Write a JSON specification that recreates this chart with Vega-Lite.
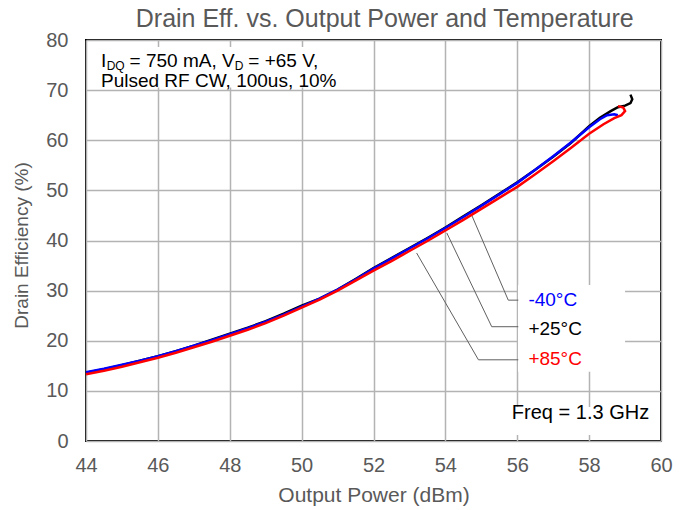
{
  "$schema": "https://vega.github.io/schema/vega-lite/v6.json",
  "width": 575,
  "height": 401,
  "autosize": {"type": "none"},
  "padding": {"left": 86, "top": 40, "right": 29, "bottom": 69},
  "background": "white",
  "config": {
    "font": "Liberation Sans",
    "view": {"stroke": "black", "strokeWidth": 2},
    "axis": {
      "labelFont": "Liberation Sans",
      "titleFont": "Liberation Sans",
      "labelColor": "#595959",
      "titleColor": "#595959",
      "titleFontWeight": "normal",
      "gridColor": "#b3b3b3",
      "gridWidth": 1.5,
      "domain": false,
      "ticks": false
    }
  },
  "title": {
    "text": "Drain Eff. vs. Output Power and Temperature",
    "font": "Liberation Sans",
    "fontSize": 25,
    "fontWeight": "normal",
    "color": "#595959",
    "anchor": "start",
    "dx": 123,
    "offset": -2
  },
  "datasets": {
    "curves": [
      {"series": "+25°C", "i": 1, "pout": 44.0, "eff": 13.6},
      {"series": "+25°C", "i": 2, "pout": 44.5, "eff": 14.3},
      {"series": "+25°C", "i": 3, "pout": 45.0, "eff": 15.1},
      {"series": "+25°C", "i": 4, "pout": 45.5, "eff": 16.0},
      {"series": "+25°C", "i": 5, "pout": 46.0, "eff": 16.9},
      {"series": "+25°C", "i": 6, "pout": 46.5, "eff": 17.9},
      {"series": "+25°C", "i": 7, "pout": 47.0, "eff": 19.0},
      {"series": "+25°C", "i": 8, "pout": 47.5, "eff": 20.2},
      {"series": "+25°C", "i": 9, "pout": 48.0, "eff": 21.4},
      {"series": "+25°C", "i": 10, "pout": 48.5, "eff": 22.6},
      {"series": "+25°C", "i": 11, "pout": 49.0, "eff": 23.9},
      {"series": "+25°C", "i": 12, "pout": 49.5, "eff": 25.4},
      {"series": "+25°C", "i": 13, "pout": 50.0, "eff": 27.0},
      {"series": "+25°C", "i": 14, "pout": 50.5, "eff": 28.4},
      {"series": "+25°C", "i": 15, "pout": 51.0, "eff": 30.2},
      {"series": "+25°C", "i": 16, "pout": 51.5, "eff": 32.3},
      {"series": "+25°C", "i": 17, "pout": 52.0, "eff": 34.5},
      {"series": "+25°C", "i": 18, "pout": 52.5, "eff": 36.5},
      {"series": "+25°C", "i": 19, "pout": 53.0, "eff": 38.5},
      {"series": "+25°C", "i": 20, "pout": 53.5, "eff": 40.5},
      {"series": "+25°C", "i": 21, "pout": 54.0, "eff": 42.6},
      {"series": "+25°C", "i": 22, "pout": 54.5, "eff": 44.8},
      {"series": "+25°C", "i": 23, "pout": 55.0, "eff": 47.0},
      {"series": "+25°C", "i": 24, "pout": 55.5, "eff": 49.3},
      {"series": "+25°C", "i": 25, "pout": 56.0, "eff": 51.6},
      {"series": "+25°C", "i": 26, "pout": 56.5, "eff": 54.1},
      {"series": "+25°C", "i": 27, "pout": 57.0, "eff": 56.7},
      {"series": "+25°C", "i": 28, "pout": 57.5, "eff": 59.5},
      {"series": "+25°C", "i": 29, "pout": 58.0, "eff": 62.8},
      {"series": "+25°C", "i": 30, "pout": 58.3, "eff": 64.5},
      {"series": "+25°C", "i": 31, "pout": 58.6, "eff": 65.8},
      {"series": "+25°C", "i": 32, "pout": 58.8, "eff": 66.6},
      {"series": "+25°C", "i": 33, "pout": 59.0, "eff": 66.9},
      {"series": "+25°C", "i": 34, "pout": 59.15, "eff": 67.4},
      {"series": "+25°C", "i": 35, "pout": 59.2, "eff": 68.2},
      {"series": "+25°C", "i": 36, "pout": 59.15, "eff": 69.1},
      {"series": "-40°C", "i": 1, "pout": 44.0, "eff": 13.7},
      {"series": "-40°C", "i": 2, "pout": 44.5, "eff": 14.4},
      {"series": "-40°C", "i": 3, "pout": 45.0, "eff": 15.2},
      {"series": "-40°C", "i": 4, "pout": 45.5, "eff": 16.0},
      {"series": "-40°C", "i": 5, "pout": 46.0, "eff": 16.9},
      {"series": "-40°C", "i": 6, "pout": 46.5, "eff": 17.9},
      {"series": "-40°C", "i": 7, "pout": 47.0, "eff": 19.0},
      {"series": "-40°C", "i": 8, "pout": 47.5, "eff": 20.1},
      {"series": "-40°C", "i": 9, "pout": 48.0, "eff": 21.3},
      {"series": "-40°C", "i": 10, "pout": 48.5, "eff": 22.5},
      {"series": "-40°C", "i": 11, "pout": 49.0, "eff": 23.8},
      {"series": "-40°C", "i": 12, "pout": 49.5, "eff": 25.2},
      {"series": "-40°C", "i": 13, "pout": 50.0, "eff": 26.8},
      {"series": "-40°C", "i": 14, "pout": 50.5, "eff": 28.4},
      {"series": "-40°C", "i": 15, "pout": 51.0, "eff": 30.2},
      {"series": "-40°C", "i": 16, "pout": 51.5, "eff": 32.2},
      {"series": "-40°C", "i": 17, "pout": 52.0, "eff": 34.4},
      {"series": "-40°C", "i": 18, "pout": 52.5, "eff": 36.4},
      {"series": "-40°C", "i": 19, "pout": 53.0, "eff": 38.4},
      {"series": "-40°C", "i": 20, "pout": 53.5, "eff": 40.4},
      {"series": "-40°C", "i": 21, "pout": 54.0, "eff": 42.5},
      {"series": "-40°C", "i": 22, "pout": 54.5, "eff": 44.7},
      {"series": "-40°C", "i": 23, "pout": 55.0, "eff": 46.9},
      {"series": "-40°C", "i": 24, "pout": 55.5, "eff": 49.2},
      {"series": "-40°C", "i": 25, "pout": 56.0, "eff": 51.5},
      {"series": "-40°C", "i": 26, "pout": 56.5, "eff": 54.1},
      {"series": "-40°C", "i": 27, "pout": 57.0, "eff": 56.8},
      {"series": "-40°C", "i": 28, "pout": 57.5, "eff": 59.6},
      {"series": "-40°C", "i": 29, "pout": 58.0, "eff": 62.6},
      {"series": "-40°C", "i": 30, "pout": 58.3, "eff": 64.2},
      {"series": "-40°C", "i": 31, "pout": 58.5, "eff": 65.0},
      {"series": "-40°C", "i": 32, "pout": 58.7, "eff": 65.2},
      {"series": "-40°C", "i": 33, "pout": 58.8, "eff": 65.0},
      {"series": "+85°C", "i": 1, "pout": 44.0, "eff": 13.3},
      {"series": "+85°C", "i": 2, "pout": 44.5, "eff": 14.0},
      {"series": "+85°C", "i": 3, "pout": 45.0, "eff": 14.8},
      {"series": "+85°C", "i": 4, "pout": 45.5, "eff": 15.7},
      {"series": "+85°C", "i": 5, "pout": 46.0, "eff": 16.6},
      {"series": "+85°C", "i": 6, "pout": 46.5, "eff": 17.6},
      {"series": "+85°C", "i": 7, "pout": 47.0, "eff": 18.7},
      {"series": "+85°C", "i": 8, "pout": 47.5, "eff": 19.8},
      {"series": "+85°C", "i": 9, "pout": 48.0, "eff": 21.0},
      {"series": "+85°C", "i": 10, "pout": 48.5, "eff": 22.2},
      {"series": "+85°C", "i": 11, "pout": 49.0, "eff": 23.5},
      {"series": "+85°C", "i": 12, "pout": 49.5, "eff": 25.0},
      {"series": "+85°C", "i": 13, "pout": 50.0, "eff": 26.6},
      {"series": "+85°C", "i": 14, "pout": 50.5, "eff": 28.2},
      {"series": "+85°C", "i": 15, "pout": 51.0, "eff": 30.0},
      {"series": "+85°C", "i": 16, "pout": 51.5, "eff": 32.0},
      {"series": "+85°C", "i": 17, "pout": 52.0, "eff": 34.0},
      {"series": "+85°C", "i": 18, "pout": 52.5, "eff": 35.9},
      {"series": "+85°C", "i": 19, "pout": 53.0, "eff": 37.9},
      {"series": "+85°C", "i": 20, "pout": 53.5, "eff": 39.9},
      {"series": "+85°C", "i": 21, "pout": 54.0, "eff": 42.0},
      {"series": "+85°C", "i": 22, "pout": 54.5, "eff": 44.1},
      {"series": "+85°C", "i": 23, "pout": 55.0, "eff": 46.3},
      {"series": "+85°C", "i": 24, "pout": 55.5, "eff": 48.5},
      {"series": "+85°C", "i": 25, "pout": 56.0, "eff": 50.7},
      {"series": "+85°C", "i": 26, "pout": 56.5, "eff": 53.2},
      {"series": "+85°C", "i": 27, "pout": 57.0, "eff": 55.8},
      {"series": "+85°C", "i": 28, "pout": 57.5, "eff": 58.5},
      {"series": "+85°C", "i": 29, "pout": 58.0, "eff": 61.3},
      {"series": "+85°C", "i": 30, "pout": 58.4, "eff": 63.2},
      {"series": "+85°C", "i": 31, "pout": 58.7, "eff": 64.4},
      {"series": "+85°C", "i": 32, "pout": 58.9, "eff": 65.0},
      {"series": "+85°C", "i": 33, "pout": 59.0, "eff": 65.8},
      {"series": "+85°C", "i": 34, "pout": 58.95, "eff": 66.5},
      {"series": "+85°C", "i": 35, "pout": 58.8, "eff": 66.8}
    ],
    "leaders": [
      {"series": "-40°C", "i": 1, "pout": 54.73, "eff": 45.1},
      {"series": "-40°C", "i": 2, "pout": 55.75, "eff": 28.1},
      {"series": "-40°C", "i": 3, "pout": 56.03, "eff": 28.1},
      {"series": "+25°C", "i": 1, "pout": 54.04, "eff": 41.5},
      {"series": "+25°C", "i": 2, "pout": 55.29, "eff": 22.8},
      {"series": "+25°C", "i": 3, "pout": 56.03, "eff": 22.8},
      {"series": "+85°C", "i": 1, "pout": 53.2, "eff": 37.5},
      {"series": "+85°C", "i": 2, "pout": 54.92, "eff": 16.2},
      {"series": "+85°C", "i": 3, "pout": 56.03, "eff": 16.2}
    ],
    "boxes": [
      {"x1": 44.17, "x2": 51.2, "y1": 70.5, "y2": 78.6},
      {"x1": 56.02, "x2": 59.0, "y1": 13.8, "y2": 31.1},
      {"x1": 55.7, "x2": 59.95, "y1": 1.2, "y2": 6.8}
    ],
    "labels": [
      {"series": "-40°C", "pout": 56.31, "eff": 26.9, "text": "-40°C"},
      {"series": "+25°C", "pout": 56.31, "eff": 21.2, "text": "+25°C"},
      {"series": "+85°C", "pout": 56.31, "eff": 15.2, "text": "+85°C"}
    ],
    "notes": [
      {"pout": 44.417, "eff": 74.6, "text": "I"},
      {"pout": 45.213, "eff": 74.6, "text": "= 750 mA, V"},
      {"pout": 48.516, "eff": 74.6, "text": "= +65 V,"},
      {"pout": 44.417, "eff": 70.6, "text": "Pulsed RF CW, 100us, 10%"}
    ],
    "subs": [
      {"pout": 44.575, "eff": 74.6, "text": "DQ"},
      {"pout": 48.14, "eff": 74.6, "text": "D"}
    ],
    "freq": [
      {"pout": 55.85, "eff": 4.4, "text": "Freq = 1.3 GHz"}
    ]
  },
  "encoding": {
    "x": {
      "field": "pout",
      "type": "quantitative",
      "scale": {"domain": [44, 60], "nice": false, "zero": false},
      "axis": {
        "title": "Output Power (dBm)",
        "values": [44, 46, 48, 50, 52, 54, 56, 58, 60],
        "labelFontSize": 20,
        "titleFontSize": 21,
        "labelPadding": 14,
        "titlePadding": 9,
        "labelFlush": false
      }
    },
    "y": {
      "field": "eff",
      "type": "quantitative",
      "scale": {"domain": [0, 80], "nice": false},
      "axis": {
        "title": "Drain Efficiency (%)",
        "values": [0, 10, 20, 30, 40, 50, 60, 70, 80],
        "labelFontSize": 20,
        "titleFontSize": 19,
        "titleY": 205,
        "labelPadding": 18,
        "titlePadding": 14
      }
    }
  },
  "layer": [
    {
      "data": {"name": "boxes"},
      "mark": {"type": "rect", "fill": "white", "stroke": null},
      "encoding": {
        "x": {"field": "x1", "type": "quantitative"},
        "x2": {"field": "x2"},
        "y": {"field": "y1", "type": "quantitative"},
        "y2": {"field": "y2"}
      }
    },
    {
      "data": {"name": "leaders"},
      "mark": {"type": "line", "color": "#606060", "strokeWidth": 1},
      "encoding": {
        "detail": {"field": "series"},
        "order": {"field": "i", "type": "quantitative"}
      }
    },
    {
      "data": {"name": "curves"},
      "transform": [{"filter": "datum.series === '+25°C'"}],
      "mark": {"type": "line", "color": "#000000", "strokeWidth": 2.5},
      "encoding": {"order": {"field": "i", "type": "quantitative"}}
    },
    {
      "data": {"name": "curves"},
      "transform": [{"filter": "datum.series === '-40°C'"}],
      "mark": {"type": "line", "color": "#0000ff", "strokeWidth": 2.5},
      "encoding": {"order": {"field": "i", "type": "quantitative"}}
    },
    {
      "data": {"name": "curves"},
      "transform": [{"filter": "datum.series === '+85°C'"}],
      "mark": {"type": "line", "color": "#ff0000", "strokeWidth": 2.5},
      "encoding": {"order": {"field": "i", "type": "quantitative"}}
    },
    {
      "data": {"name": "labels"},
      "mark": {"type": "text", "align": "left", "baseline": "alphabetic", "fontSize": 19, "font": "Liberation Sans"},
      "encoding": {
        "text": {"field": "text"},
        "color": {
          "field": "series",
          "type": "nominal",
          "scale": {"domain": ["-40°C", "+25°C", "+85°C"], "range": ["#0000ff", "#000000", "#ff0000"]},
          "legend": null
        }
      }
    },
    {
      "data": {"name": "notes"},
      "mark": {"type": "text", "align": "left", "baseline": "alphabetic", "fontSize": 19, "font": "Liberation Sans", "color": "#000000"},
      "encoding": {"text": {"field": "text"}}
    },
    {
      "data": {"name": "freq"},
      "mark": {"type": "text", "align": "left", "baseline": "alphabetic", "fontSize": 20, "font": "Liberation Sans", "color": "#000000"},
      "encoding": {"text": {"field": "text"}}
    },
    {
      "data": {"name": "subs"},
      "mark": {"type": "text", "align": "left", "baseline": "alphabetic", "fontSize": 12, "dy": 3, "font": "Liberation Sans", "color": "#000000"},
      "encoding": {"text": {"field": "text"}}
    }
  ]
}
